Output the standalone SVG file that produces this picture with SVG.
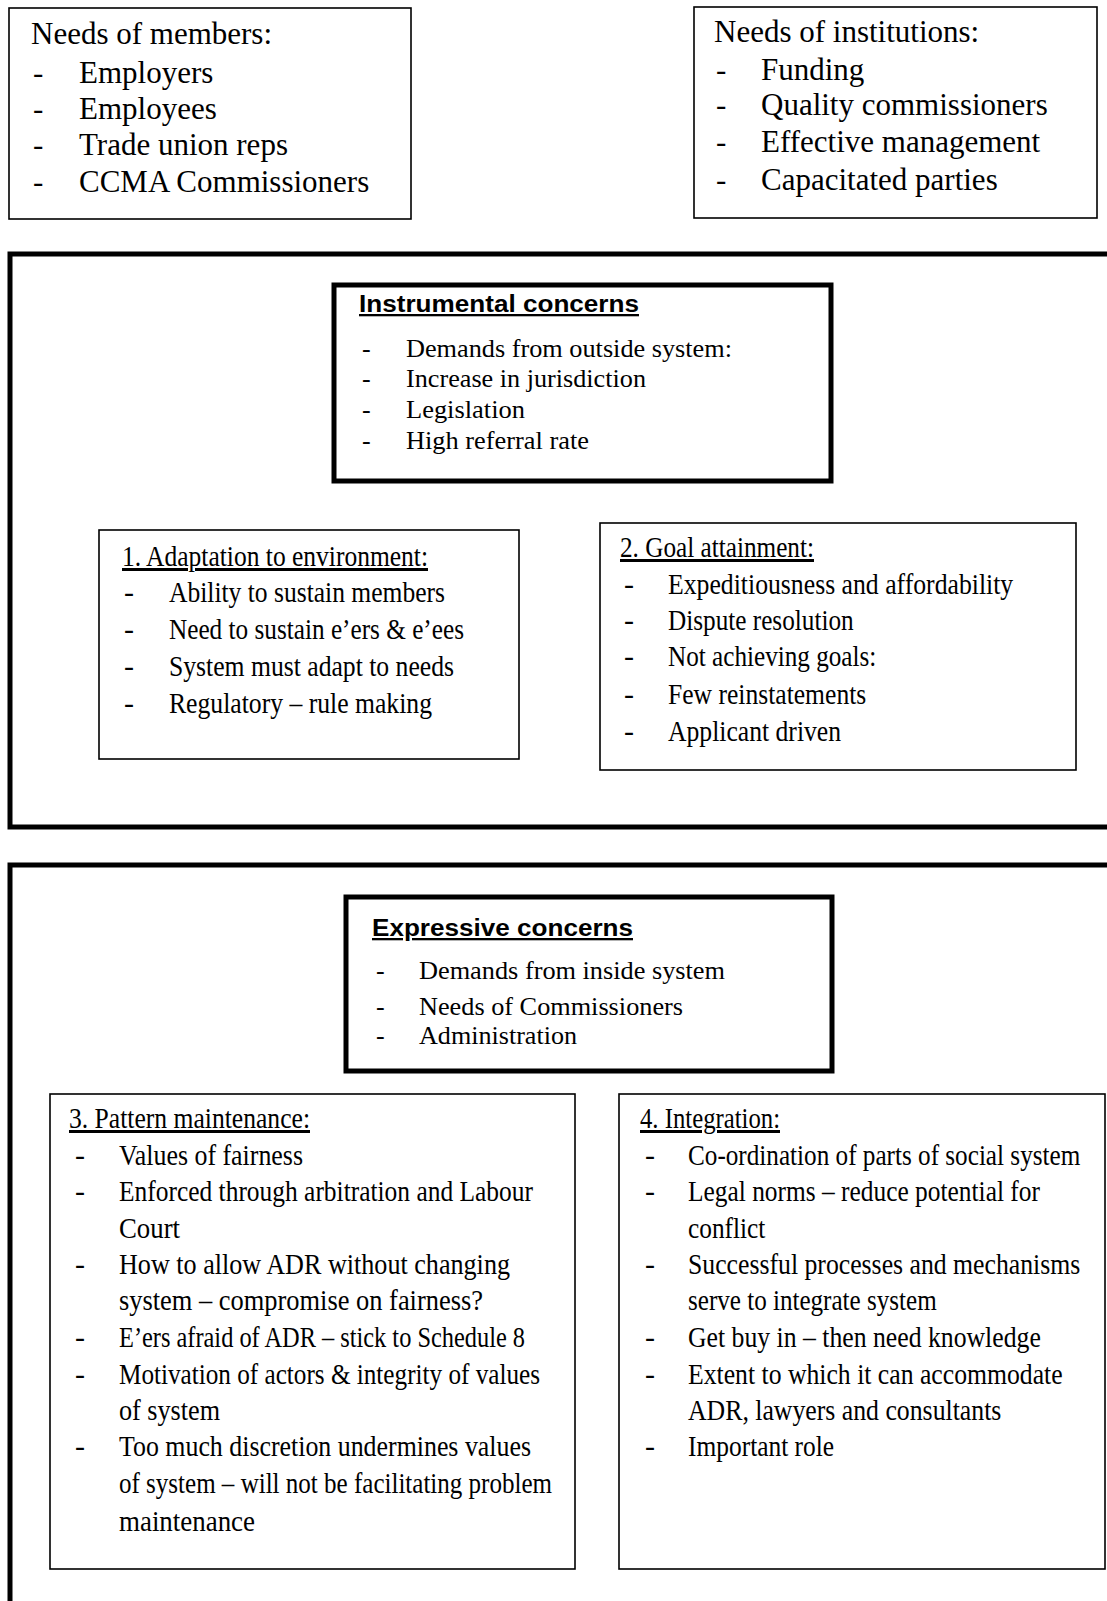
<svg xmlns="http://www.w3.org/2000/svg" width="1107" height="1601" viewBox="0 0 1107 1601">
<style>
.bg{fill:#fff}
.box{fill:#fff;stroke:#000;stroke-width:1.6}
.thick{fill:#fff;stroke:#000;stroke-width:5}
.frame{fill:none;stroke:#000;stroke-width:5}
.t{font-family:"Liberation Serif","Times New Roman",serif;fill:#000}
.big{font-size:31px}
.mid{font-size:26px}
.cond{font-size:30px}
.h{font-family:"Liberation Sans",Arial,sans-serif;font-weight:bold;font-size:23px;fill:#000;text-decoration:underline}
.u{text-decoration:underline}
</style>
<rect class="bg" x="0" y="0" width="1107" height="1601"/>

<g id="instrumental-frame"><rect class="frame" x="10" y="254" width="1110" height="573"/></g>
<g id="expressive-frame"><rect class="frame" x="10" y="865" width="1110" height="760"/></g>

<g id="needs-members">
<rect class="box" x="9" y="8" width="402" height="211"/>
<g class="t big">
<text x="31" y="44">Needs of members:</text>
<text x="33" y="83">-</text><text x="79" y="83">Employers</text>
<text x="33" y="119">-</text><text x="79" y="119">Employees</text>
<text x="33" y="155">-</text><text x="79" y="155">Trade union reps</text>
<text x="33" y="192">-</text><text x="79" y="192">CCMA Commissioners</text>
</g>
</g>

<g id="needs-institutions">
<rect class="box" x="694" y="7" width="403" height="211"/>
<g class="t big">
<text x="714" y="42">Needs of institutions:</text>
<text x="716" y="80">-</text><text x="761" y="80">Funding</text>
<text x="716" y="115">-</text><text x="761" y="115">Quality commissioners</text>
<text x="716" y="152">-</text><text x="761" y="152">Effective management</text>
<text x="716" y="190">-</text><text x="761" y="190">Capacitated parties</text>
</g>
</g>

<g id="instrumental-concerns">
<rect class="thick" x="334" y="285" width="497" height="196"/>
<text class="h" x="359" y="312" textLength="280" lengthAdjust="spacingAndGlyphs">Instrumental concerns</text>
<g class="t mid">
<text x="362" y="357">-</text><text x="406" y="357" textLength="326" lengthAdjust="spacingAndGlyphs">Demands from outside system:</text>
<text x="362" y="387">-</text><text x="406" y="387" textLength="240" lengthAdjust="spacingAndGlyphs">Increase in jurisdiction</text>
<text x="362" y="418">-</text><text x="406" y="418" textLength="119" lengthAdjust="spacingAndGlyphs">Legislation</text>
<text x="362" y="449">-</text><text x="406" y="449" textLength="183" lengthAdjust="spacingAndGlyphs">High referral rate</text>
</g>
</g>

<g id="adaptation">
<rect class="box" x="99" y="530" width="420" height="229"/>
<g class="t cond">
<text class="u" x="122" y="566" textLength="306" lengthAdjust="spacingAndGlyphs">1. Adaptation to environment:</text>
<text x="124" y="602">-</text><text x="169" y="602" textLength="276" lengthAdjust="spacingAndGlyphs">Ability to sustain members</text>
<text x="124" y="639">-</text><text x="169" y="639" textLength="295" lengthAdjust="spacingAndGlyphs">Need to sustain e’ers &amp; e’ees</text>
<text x="124" y="676">-</text><text x="169" y="676" textLength="285" lengthAdjust="spacingAndGlyphs">System must adapt to needs</text>
<text x="124" y="713">-</text><text x="169" y="713" textLength="263" lengthAdjust="spacingAndGlyphs">Regulatory – rule making</text>
</g>
</g>

<g id="goal-attainment">
<rect class="box" x="600" y="523" width="476" height="247"/>
<g class="t cond">
<text class="u" x="620" y="557" textLength="194" lengthAdjust="spacingAndGlyphs">2. Goal attainment:</text>
<text x="624" y="594">-</text>
<text x="624" y="630">-</text>
<text x="624" y="666">-</text>
<text x="624" y="704">-</text>
<text x="624" y="741">-</text>
<g transform="translate(668 0) scale(0.84 1)">
<text x="0" y="594" textLength="411" lengthAdjust="spacingAndGlyphs">Expeditiousness and  affordability</text>
<text x="0" y="630" textLength="221" lengthAdjust="spacingAndGlyphs">Dispute resolution</text>
<text x="0" y="666" textLength="248" lengthAdjust="spacingAndGlyphs">Not achieving goals:</text>
<text x="0" y="704" textLength="236" lengthAdjust="spacingAndGlyphs">Few reinstatements</text>
<text x="0" y="741" textLength="206" lengthAdjust="spacingAndGlyphs">Applicant driven</text>
</g>
</g>
</g>

<g id="expressive-concerns">
<rect class="thick" x="346" y="897" width="486" height="174"/>
<text class="h" x="372" y="936" textLength="261" lengthAdjust="spacingAndGlyphs">Expressive concerns</text>
<g class="t mid">
<text x="376" y="979">-</text><text x="419" y="979" textLength="306" lengthAdjust="spacingAndGlyphs">Demands from inside system</text>
<text x="376" y="1015">-</text><text x="419" y="1015" textLength="264" lengthAdjust="spacingAndGlyphs">Needs of Commissioners</text>
<text x="376" y="1044">-</text><text x="419" y="1044" textLength="158" lengthAdjust="spacingAndGlyphs">Administration</text>
</g>
</g>

<g id="pattern-maintenance">
<rect class="box" x="50" y="1094" width="525" height="475"/>
<g class="t cond">
<text class="u" x="69" y="1128" textLength="241" lengthAdjust="spacingAndGlyphs">3. Pattern maintenance:</text>
<text x="75" y="1165">-</text><text x="119" y="1165" textLength="184" lengthAdjust="spacingAndGlyphs">Values of fairness</text>
<text x="75" y="1201">-</text><text x="119" y="1201" textLength="414" lengthAdjust="spacingAndGlyphs">Enforced through arbitration and Labour</text>
<text x="119" y="1238" textLength="61" lengthAdjust="spacingAndGlyphs">Court</text>
<text x="75" y="1274">-</text><text x="119" y="1274" textLength="391" lengthAdjust="spacingAndGlyphs">How to allow ADR without changing</text>
<text x="119" y="1310" textLength="364" lengthAdjust="spacingAndGlyphs">system –  compromise on fairness?</text>
<text x="75" y="1347">-</text><text x="119" y="1347" textLength="406" lengthAdjust="spacingAndGlyphs">E’ers afraid of ADR –  stick to Schedule 8</text>
<text x="75" y="1384">-</text><text x="119" y="1384" textLength="421" lengthAdjust="spacingAndGlyphs">Motivation of actors &amp; integrity of values</text>
<text x="119" y="1420" textLength="101" lengthAdjust="spacingAndGlyphs">of system</text>
<text x="75" y="1456">-</text><text x="119" y="1456" textLength="412" lengthAdjust="spacingAndGlyphs">Too much discretion undermines values</text>
<text x="119" y="1493" textLength="433" lengthAdjust="spacingAndGlyphs">of system – will not be facilitating problem</text>
<text x="119" y="1531" textLength="136" lengthAdjust="spacingAndGlyphs">maintenance</text>
</g>
</g>

<g id="integration">
<rect class="box" x="619" y="1094" width="486" height="475"/>
<g class="t cond">
<text class="u" x="640" y="1128" textLength="140" lengthAdjust="spacingAndGlyphs">4. Integration:</text>
<text x="645" y="1165">-</text>
<text x="645" y="1201">-</text>
<text x="645" y="1274">-</text>
<text x="645" y="1347">-</text>
<text x="645" y="1384">-</text>
<text x="645" y="1456">-</text>
<g transform="translate(688 0) scale(0.84 1)">
<text x="0" y="1165" textLength="467" lengthAdjust="spacingAndGlyphs">Co-ordination of parts of social system</text>
<text x="0" y="1201" textLength="419" lengthAdjust="spacingAndGlyphs">Legal norms – reduce potential for</text>
<text x="0" y="1238" textLength="92" lengthAdjust="spacingAndGlyphs">conflict</text>
<text x="0" y="1274" textLength="467" lengthAdjust="spacingAndGlyphs">Successful processes and mechanisms</text>
<text x="0" y="1310" textLength="296" lengthAdjust="spacingAndGlyphs">serve to integrate system</text>
<text x="0" y="1347" textLength="420" lengthAdjust="spacingAndGlyphs">Get buy in – then need knowledge</text>
<text x="0" y="1384" textLength="446" lengthAdjust="spacingAndGlyphs">Extent to which it can accommodate</text>
<text x="0" y="1420" textLength="373" lengthAdjust="spacingAndGlyphs">ADR, lawyers and consultants</text>
<text x="0" y="1456" textLength="174" lengthAdjust="spacingAndGlyphs">Important role</text>
</g>
</g>
</g>

<g id="connectors"/>
</svg>
